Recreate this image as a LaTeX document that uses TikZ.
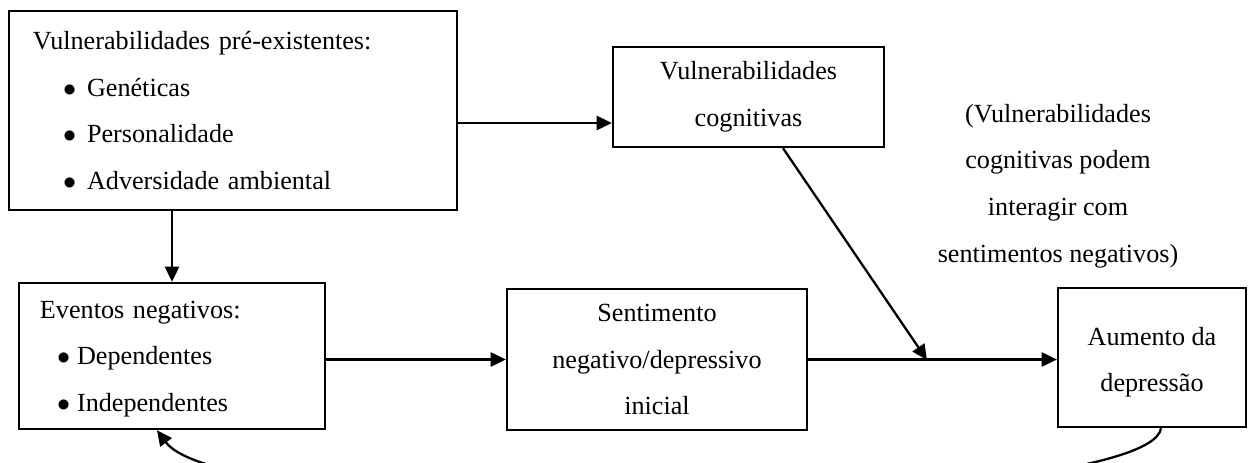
\documentclass[tikz,border=0pt]{standalone}
\usepackage{fontspec}
\setmainfont{Liberation Serif}
\usetikzlibrary{arrows.meta,calc}
\newcommand{\bul}[3]{\hspace*{#1}\makebox[#2][l]{$\bullet$}#3}

\begin{document}
\begin{tikzpicture}[x=0.4587pt,y=-0.4587pt,
  box/.style={draw, line width=1.05pt, inner sep=0pt, font=\fontsize{12}{21.4}\selectfont},
  arr/.style={line width=1.05pt, -{Triangle[length=7pt,width=6.5pt]}}]
\useasboundingbox (0,0) rectangle (1248,463);
\clip (0,0) rectangle (1248,463);

\node[box, minimum width=205.5pt, minimum height=91.3pt, text width=183.5pt, align=left] (vuln) at (233,110.5)
  {Vulnerabilidades pré-existentes:\\
   \bul{13.8pt}{11pt}{Genéticas}\\
   \bul{13.8pt}{11pt}{Personalidade}\\
   \bul{13.8pt}{11pt}{Adversidade ambiental}};
\node[box, minimum width=124.3pt, minimum height=45.9pt, align=center] (cogn) at (748.5,97)
  {Vulnerabilidades\\ cognitivas};
\node[box, minimum width=140.4pt, minimum height=67pt, text width=121.1pt, align=left] (evt) at (172,356)
  {\rule{0pt}{10.7pt}Eventos negativos:\\
   \bul{7.8pt}{9.2pt}{Dependentes}\\
   \bul{7.8pt}{9.2pt}{Independentes}};
\node[box, minimum width=137.6pt, minimum height=64.7pt, align=center] (sent) at (657,359.5)
  {Sentimento\\ negativo/depressivo\\ inicial};
\node[box, minimum width=86.2pt, minimum height=63.8pt, align=center] (aum) at (1152,357.5)
  {\rule{0pt}{12.8pt}Aumento da\\ depressão};
\node[box, draw=none, align=center] (nota) at (1058,186)
  {(Vulnerabilidades\\ cognitivas podem\\ interagir com\\ sentimentos negativos)};

\coordinate (cin) at ($(cogn.west)+(0,26)$);
\coordinate (mix) at (927,360);

\draw[arr] (vuln.east |- cin) -- (cin);
\draw[arr] (vuln.south -| evt.north) -- (evt.north);
\draw[arr] (evt.east |- sent.west) -- (sent.west);
\draw[arr] (sent.east) -- (sent.east -| aum.west);
\draw[arr] ($(cogn.south)+(34.5,0)$) -- (mix);
\draw[arr] ($(aum.south)+(9,0)$) .. controls +(-11,82) and +(73,99) .. ($(evt.south)+(-15,0)$);
\end{tikzpicture}
\end{document}
